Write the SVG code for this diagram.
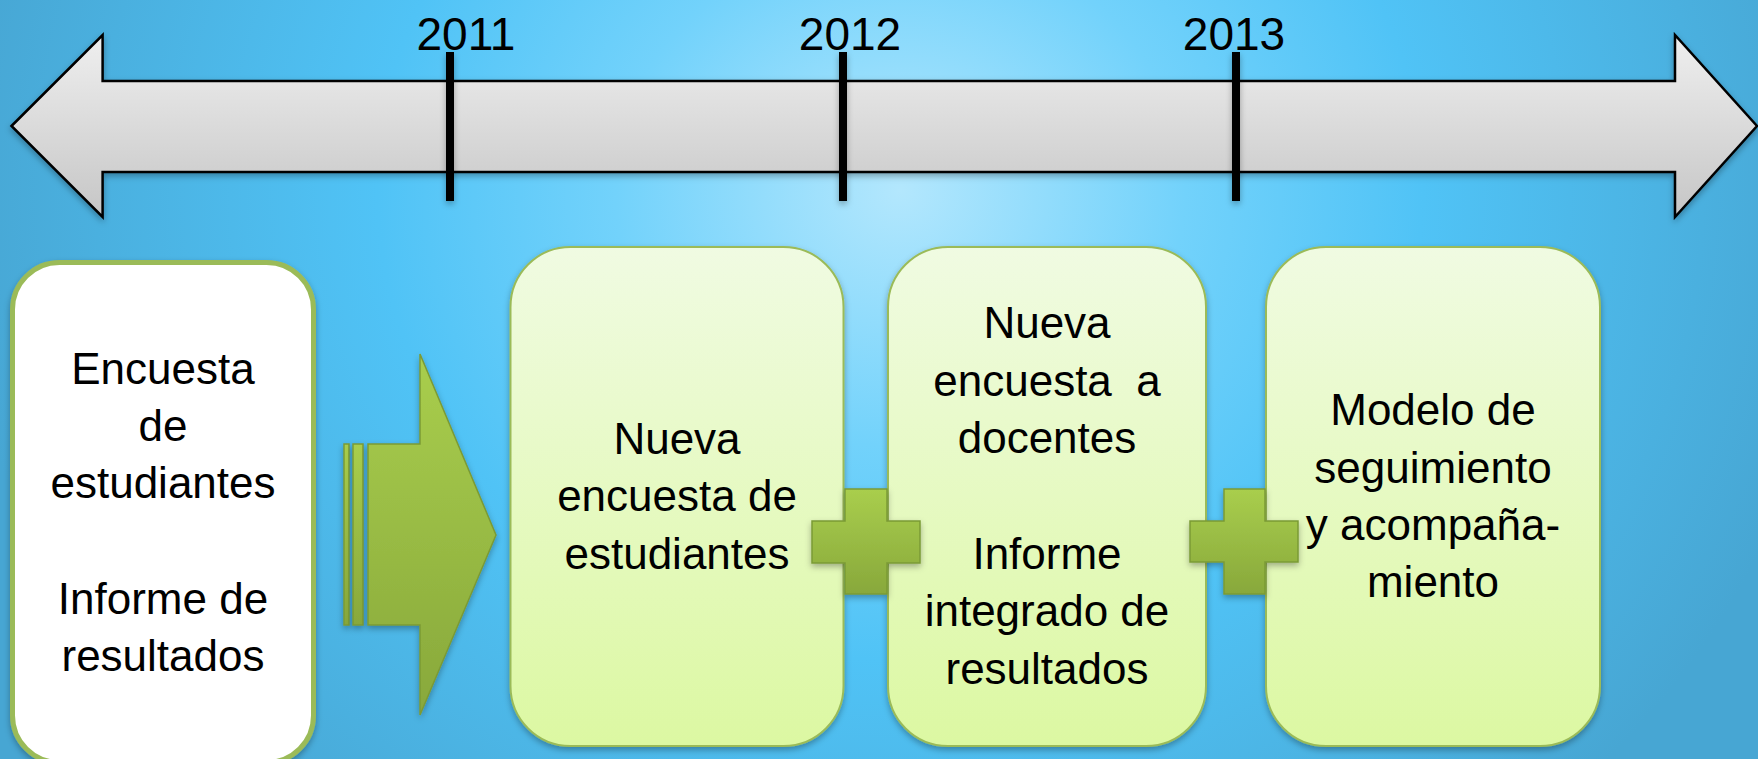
<svg xmlns="http://www.w3.org/2000/svg" width="1758" height="759" viewBox="0 0 1758 759">
<defs>
<radialGradient id="bg" gradientUnits="userSpaceOnUse" cx="900" cy="190" r="950" gradientTransform="translate(900 190) scale(1 0.9) translate(-900 -190)">
<stop offset="0" stop-color="#b3e7fd"/>
<stop offset="0.3" stop-color="#72d2fb"/>
<stop offset="0.55" stop-color="#50c3f6"/>
<stop offset="1" stop-color="#47a6d3"/>
</radialGradient>
<linearGradient id="gray" x1="0" y1="0" x2="0" y2="1">
<stop offset="0" stop-color="#efefef"/>
<stop offset="1" stop-color="#c6c6c6"/>
</linearGradient>
<linearGradient id="boxg" x1="0" y1="0" x2="0" y2="1">
<stop offset="0" stop-color="#f0fbe2"/>
<stop offset="1" stop-color="#dcf8a2"/>
</linearGradient>
<linearGradient id="grn" x1="0" y1="0" x2="0" y2="1">
<stop offset="0" stop-color="#a9ce4d"/>
<stop offset="1" stop-color="#88a83b"/>
</linearGradient>
<filter id="sh" filterUnits="userSpaceOnUse" x="0" y="0" width="1758" height="759">
<feDropShadow dx="0" dy="3" stdDeviation="3" flood-color="#000" flood-opacity="0.3"/>
</filter>
</defs>
<style>
.t{font-family:"Liberation Sans",Arial,sans-serif;font-size:44px;fill:#000;text-anchor:middle}
.y{font-family:"Liberation Sans",Arial,sans-serif;font-size:46px;fill:#000;text-anchor:middle}
.box{fill:url(#boxg);stroke:#9bbb59;stroke-width:2;filter:url(#sh)}
.g{fill:url(#grn);stroke:#7b9a34;stroke-width:1.5;filter:url(#sh)}
.tick{fill:#000;filter:url(#sh)}
</style>
<rect width="1758" height="759" fill="url(#bg)"/>
<g id="timeline">
<polygon points="11.5,126 102.6,35 102.6,81 1675,81 1675,35 1757,126 1675,217 1675,172 102.6,172 102.6,217" fill="url(#gray)" stroke="#000" stroke-width="2.5" stroke-linejoin="miter" filter="url(#sh)"/>
<rect class="tick" x="446" y="52" width="8" height="149"/>
<rect class="tick" x="839" y="52" width="8" height="149"/>
<rect class="tick" x="1232" y="52" width="8" height="149"/>
<text class="y" x="466" y="50">2011</text>
<text class="y" x="850" y="50">2012</text>
<text class="y" x="1234" y="50">2013</text>
</g>
<g id="connectors">
<g id="arrow">
<rect class="g" x="344" y="444" width="5" height="181"/>
<rect class="g" x="353" y="444" width="10" height="181"/>
<polygon class="g" points="368,444 420,444 420,354 496,535 420,715 420,625 368,625"/>
</g>
</g>
<g id="node1">
<rect x="12.5" y="262.5" width="301" height="500" rx="47" ry="47" fill="#fff" stroke="#9bbb59" stroke-width="5" filter="url(#sh)"/>
<text class="t" x="163" y="384">Encuesta</text>
<text class="t" x="163" y="441">de</text>
<text class="t" x="163" y="498">estudiantes</text>
<text class="t" x="163" y="614">Informe de</text>
<text class="t" x="163" y="671">resultados</text>
</g>
<g id="node2">
<rect class="box" x="510.5" y="247" width="333" height="499" rx="60" ry="60"/>
<text class="t" x="677" y="454">Nueva</text>
<text class="t" x="677" y="511">encuesta de</text>
<text class="t" x="677" y="569">estudiantes</text>
</g>
<g id="node3">
<rect class="box" x="888" y="247" width="318" height="499" rx="60" ry="60"/>
<text class="t" x="1047" y="338">Nueva</text>
<text class="t" x="1047" y="396" xml:space="preserve">encuesta  a</text>
<text class="t" x="1047" y="453">docentes</text>
<text class="t" x="1047" y="569">Informe</text>
<text class="t" x="1047" y="626">integrado de</text>
<text class="t" x="1047" y="684">resultados</text>
</g>
<g id="node4">
<rect class="box" x="1266" y="247" width="334" height="499" rx="60" ry="60"/>
<text class="t" x="1433" y="425">Modelo de</text>
<text class="t" x="1433" y="483">seguimiento</text>
<text class="t" x="1433" y="540">y acompaña-</text>
<text class="t" x="1433" y="597">miento</text>
</g>
<g id="plus-connectors">
<polygon class="g" points="845,489 887,489 887,521 920,521 920,563 887,563 887,594 845,594 845,563 812,563 812,521 845,521"/>
<polygon class="g" points="1224,489 1265,489 1265,521 1298,521 1298,562 1265,562 1265,594 1224,594 1224,562 1190,562 1190,521 1224,521"/>
</g>
</svg>
